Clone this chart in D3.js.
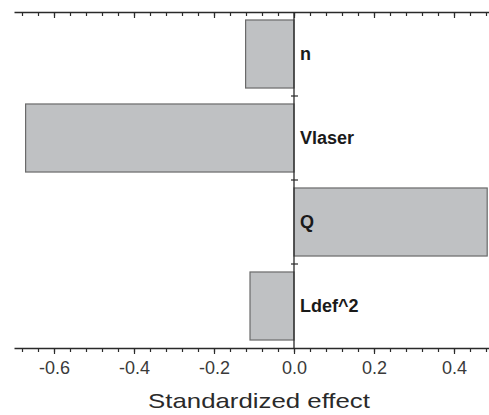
<!DOCTYPE html>
<html>
<head>
<meta charset="utf-8">
<script src="https://cdn.jsdelivr.net/npm/d3@7"></script>
<style>
  html, body { margin: 0; padding: 0; background: #fff; }
  svg { display: block; font-family: "Liberation Sans", Arial, sans-serif; }
</style>
</head>
<body>
<svg id="chart" width="489" height="415"></svg>
<script>
const categories = ["n", "Vlaser", "Q", "Ldef^2"];
const effects = [-0.121, -0.671, 0.483, -0.11];
const majorTicks = [-0.6, -0.4, -0.2, 0.0, 0.2, 0.4];
const majorTickLabels = ["-0.6", "-0.4", "-0.2", "0.0", "0.2", "0.4"];
const xTitle = "Standardized effect";

const svg = d3.select("#chart");
const x = d3.scaleLinear().domain([-0.7, 0.5]).range([14, 494]);
const y = d3.scaleBand().domain(categories).range([12, 348]).paddingInner(0.19).paddingOuter(0.095);

const minorTicks = d3.range(-17, 13).map(i => +(i * 0.04).toFixed(2));
const axisColor = "#2a2a2a";

// bars
svg.append("g").selectAll("rect").data(categories).join("rect")
  .attr("x", (d, i) => x(Math.min(0, effects[i])))
  .attr("width", (d, i) => Math.abs(x(effects[i]) - x(0)))
  .attr("y", d => y(d))
  .attr("height", y.bandwidth())
  .attr("fill", "#bfc1c3")
  .attr("stroke", "#6a6a6a")
  .attr("stroke-width", 1.2);

// zero line
svg.append("line")
  .attr("x1", x(0)).attr("x2", x(0))
  .attr("y1", 12).attr("y2", 348)
  .attr("stroke", axisColor).attr("stroke-width", 1.3);

// separator ticks on zero line
const seps = categories.slice(1).map(c => y(c) - y.step() * y.paddingInner() / 2);
svg.append("g").selectAll("line").data(seps).join("line")
  .attr("x1", x(0) - 3).attr("x2", x(0) + 4)
  .attr("y1", d => d).attr("y2", d => d)
  .attr("stroke", axisColor).attr("stroke-width", 1.2);

function styleAxis(g) {
  g.select(".domain").attr("stroke", axisColor).attr("stroke-width", 1.5);
  g.selectAll(".tick line").attr("stroke", axisColor).attr("stroke-width", 1.2);
}

// top axis (ticks pointing down, no labels)
const topMinor = svg.append("g").attr("transform", "translate(0,12)")
  .call(d3.axisBottom(x).tickValues(minorTicks).tickSize(4).tickSizeOuter(0).tickFormat(""));
styleAxis(topMinor);
const topMajor = svg.append("g").attr("transform", "translate(0,12)")
  .call(d3.axisBottom(x).tickValues(majorTicks).tickSize(6).tickSizeOuter(0).tickFormat(""));
topMajor.select(".domain").remove();
styleAxis(topMajor);

// bottom axis (ticks pointing down)
const botMinor = svg.append("g").attr("transform", "translate(0,348)")
  .call(d3.axisBottom(x).tickValues(minorTicks).tickSize(4).tickSizeOuter(0).tickFormat(""));
styleAxis(botMinor);
const botMajor = svg.append("g").attr("transform", "translate(0,348)")
  .call(d3.axisBottom(x).tickValues(majorTicks).tickSize(6).tickSizeOuter(0)
    .tickFormat((d, i) => majorTickLabels[i]));
botMajor.select(".domain").remove();
styleAxis(botMajor);
botMajor.selectAll(".tick text")
  .attr("y", 26).attr("dy", 0)
  .attr("fill", "#3a3a3a")
  .style("font-size", "18px")
  .style("font-family", "'Liberation Sans', Arial, sans-serif");

// category labels
svg.append("g").selectAll("text").data(categories).join("text")
  .attr("x", x(0) + 6)
  .attr("y", d => y(d) + y.bandwidth() / 2)
  .attr("dy", "0.35em")
  .attr("fill", "#1a1a1a")
  .style("font-size", "18px")
  .style("font-weight", "bold")
  .text(d => d);

// axis title (horizontally stretched like the reference)
const titleG = svg.append("g").attr("transform", "translate(259,408)");
const title = titleG.append("text")
  .attr("x", 0).attr("y", 0)
  .attr("text-anchor", "middle")
  .attr("fill", "#2a2a2a")
  .style("font-size", "21px")
  .text(xTitle);
const tw = title.node().getComputedTextLength();
const sx = tw > 0 ? 222 / tw : 1;
titleG.attr("transform", `translate(259,408) scale(${sx},1)`);
</script>
</body>
</html>
